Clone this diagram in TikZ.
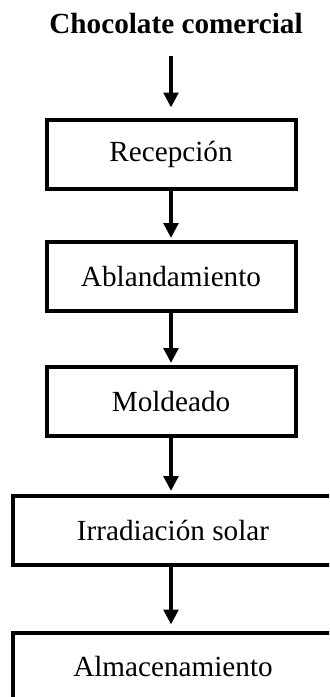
\documentclass[tikz,border=0pt]{standalone}
\usepackage{fontspec}
\setmainfont{Liberation Serif}
\usetikzlibrary{arrows.meta}

\begin{document}
\begin{tikzpicture}[x=0.5pt,y=-0.5pt,line width=2pt,
	paso/.style={draw,minimum height=34.5pt,inner sep=0pt,font=\fontsize{14.6}{17}\selectfont},
	corto/.style={paso,minimum width=124.5pt},
	largo/.style={paso,minimum width=160pt},
	flecha/.style={-{Triangle[width=7.3pt,length=7.5pt]}}]
	\useasboundingbox (0,0) rectangle (329,697);
	\clip (0,0) rectangle (329,697);
	\node[inner sep=0pt,anchor=base,font=\bfseries\fontsize{14.6}{17}\selectfont] (titulo) at (176,33) {Chocolate comercial};
	\node[corto] (recepcion) at (171,154) {Recepción};
	\node[corto] (ablandamiento) at (171,276.5) {Ablandamiento};
	\node[corto] (moldeado) at (171,401.5) {Moldeado};
	\node[largo] (irradiacion) at (173,530.5) {Irradiación solar};
	\node[largo] (almacenamiento) at (173,667) {Almacenamiento};
	\draw[flecha,shorten <=10.5pt,shorten >=5pt] (titulo.south -| recepcion.north) -- (recepcion.north);
	\draw[flecha,shorten >=1pt] (recepcion) -- (ablandamiento);
	\draw[flecha,shorten >=1pt] (ablandamiento) -- (moldeado);
	\draw[flecha,shorten >=1.5pt] (moldeado) -- (recepcion |- irradiacion.north);
	\draw[flecha,shorten >=3pt] (irradiacion.south -| recepcion) -- (recepcion |- almacenamiento.north);
\end{tikzpicture}
\end{document}
